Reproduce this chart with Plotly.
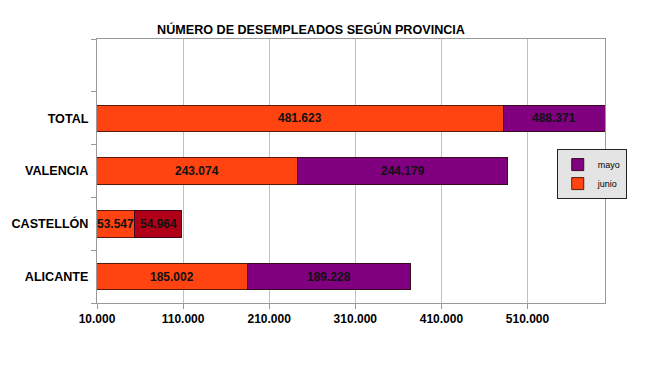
import plotly.graph_objects as go

categories = ["ALICANTE", "CASTELLÓN", "VALENCIA", "TOTAL"]
junio = [185002, 53547, 243074, 481623]
mayo = [189228, 54964, 244179, 488371]
mayo_colors = ["#800080", "#B00018", "#800080", "#800080"]
x_min, x_max = 10000, 600000
tick_values = [10000, 110000, 210000, 310000, 410000, 510000]
tick_labels = ["10.000", "110.000", "210.000", "310.000", "410.000", "510.000"]
title_text = "NÚMERO DE DESEMPLEADOS SEGÚN PROVINCIA"


def fmt(v):
    return f"{v:,}".replace(",", ".")


fig = go.Figure()
fig.add_trace(go.Bar(
    y=categories, x=junio, orientation="h", name="junio",
    marker=dict(color="#FF4411", line=dict(color="#5a1a08", width=1)),
    hoverinfo="skip",
))
fig.add_trace(go.Bar(
    y=categories, x=mayo, orientation="h", name="mayo",
    marker=dict(color=mayo_colors, line=dict(color="#3a0a20", width=1)),
    hoverinfo="skip",
))

annotations = []
for cat, j, m in zip(categories, junio, mayo):
    segs = [(0, j, j), (j, j + m, m)]
    for s0, s1, val in segs:
        a = max(s0, x_min)
        b = min(s1, x_max)
        annotations.append(dict(
            x=(a + b) / 2, y=cat, xref="x", yref="y", text=fmt(val),
            showarrow=False,
            font=dict(family="Liberation Sans, Arial", size=12, color="#111111", weight="bold"),
        ))

fig.update_layout(
    barmode="stack",
    bargap=0.5,
    width=658, height=370,
    margin=dict(l=89, r=61, t=31, b=75, autoexpand=False),
    paper_bgcolor="white", plot_bgcolor="white",
    font=dict(family="Liberation Sans, Arial", size=12, color="#000000"),
    title=dict(
        text="<b>" + title_text + "</b>",
        x=0.4605, xanchor="center", y=0.9405, yanchor="middle",
        font=dict(family="Liberation Sans, Arial", size=12.6, color="#000000"),
    ),
    xaxis=dict(
        range=[x_min, x_max],
        tickvals=tick_values, ticktext=tick_labels,
        showgrid=True, gridcolor="#c0c0c0", gridwidth=1,
        showline=True, linecolor="#999999", linewidth=1, mirror=True,
        ticks="outside", ticklen=5, tickcolor="#999999",
        tickfont=dict(size=12, color="#000000", weight="bold"),
        zeroline=False, fixedrange=True,
    ),
    yaxis=dict(
        categoryorder="array", categoryarray=categories + [" "],
        range=[-0.5, 4.5],
        showgrid=False,
        showline=True, linecolor="#999999", linewidth=1, mirror=True,
        ticks="outside", ticklen=5, tickcolor="#999999", tickson="boundaries",
        tickfont=dict(size=12.6, color="#000000", weight="bold"),
        ticklabelstandoff=5,
        fixedrange=True,
    ),
    legend=dict(
        x=0.905, y=0.583, xanchor="left", yanchor="top",
        bgcolor="#e4e4e4", bordercolor="#222222", borderwidth=1,
        traceorder="reversed",
        font=dict(size=9, color="#000000"),
        itemwidth=30,
        tracegroupgap=0,
    ),
    annotations=annotations,
)

fig.write_html("out.html")
